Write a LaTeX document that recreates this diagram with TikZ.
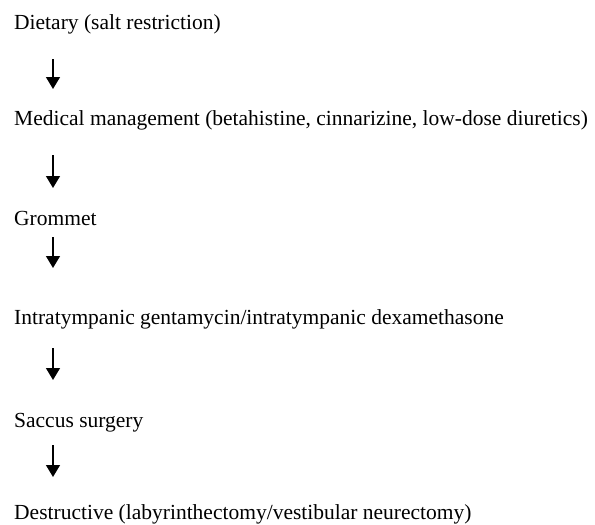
\documentclass[tikz,border=0pt]{standalone}
\usepackage{fontspec}
\setmainfont{Liberation Serif}
\usepackage{tikz}
\usetikzlibrary{arrows.meta,calc}

\begin{document}
\begin{tikzpicture}[x=1pt, y=-1pt,
        stage/.style={inner sep=0pt, anchor=base west,
                font=\fontsize{21.5pt}{26pt}\selectfont},
        flow/.style={line width=1.5pt, -{Triangle[width=14pt,length=12pt]}}]

        % fix the page size
        \useasboundingbox (0,0) rectangle (595,525);

        % Stages
        \node[stage] (diet)  at (14, 29)  {Dietary (salt restriction)};
        \node[stage] (med)   at (14, 125) {Medical management (betahistine, cinnarizine, low-dose diuretics)};
        \node[stage] (grom)  at (14, 225) {Grommet};
        \node[stage] (intra) at (14, 324) {Intratympanic gentamycin/intratympanic dexamethasone};
        \node[stage] (sacc)  at (14, 427) {Saccus surgery};
        \node[stage] (dest)  at (14, 519) {Destructive (labyrinthectomy/vestibular neurectomy)};

        % Arrows between stages
        \draw[flow, shorten <=30pt, shorten >=36pt] ([xshift=39pt]diet.base west) -- ([xshift=39pt]med.base west);
        \draw[flow, shorten <=30pt, shorten >=37pt] ([xshift=39pt]med.base west) -- ([xshift=39pt]grom.base west);
        \draw[flow, shorten <=12pt, shorten >=56pt] ([xshift=39pt]grom.base west) -- ([xshift=39pt]intra.base west);
        \draw[flow, shorten <=24pt, shorten >=47pt] ([xshift=39pt]intra.base west) -- ([xshift=39pt]sacc.base west);
        \draw[flow, shorten <=18pt, shorten >=42pt] ([xshift=39pt]sacc.base west) -- ([xshift=39pt]dest.base west);

\end{tikzpicture}
\end{document}
